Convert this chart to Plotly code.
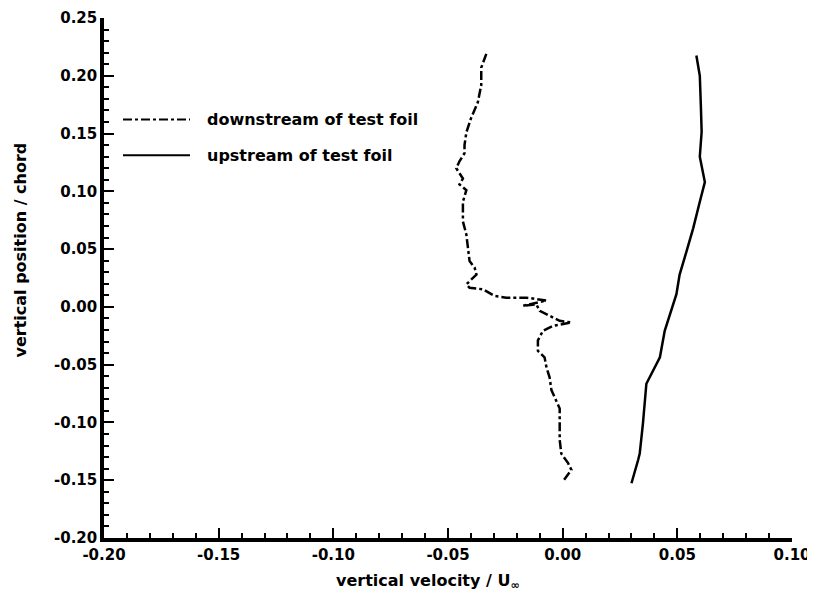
import plotly.graph_objects as go

# Downstream of test foil (dash-dot)
down_x = [-0.0333, -0.0355, -0.0355, -0.0370, -0.0400, -0.0420, -0.0428, -0.0428, -0.0450, -0.0464,
          -0.0435, -0.0450, -0.0420, -0.0435, -0.0435, -0.0435, -0.0420, -0.0413, -0.0406, -0.0384,
          -0.0376, -0.0420, -0.0406, -0.0348, -0.0297, -0.0246, -0.0158, -0.0071, -0.0173, -0.0115,
          -0.0100, -0.0057, -0.0013, 0.0038, -0.0042, -0.0086, -0.0108, -0.0108, -0.0079, -0.0071,
          -0.0057, -0.0049, -0.0027, -0.0013, -0.0013, -0.0013, -0.0006, 0.0023, 0.0038, 0.0001]
down_y = [0.219, 0.207, 0.192, 0.177, 0.163, 0.151, 0.140, 0.133, 0.126, 0.120,
          0.111, 0.106, 0.101, 0.091, 0.080, 0.074, 0.0626, 0.051, 0.0396, 0.034,
          0.028, 0.0195, 0.0166, 0.0152, 0.0095, 0.008, 0.008, 0.0055, 0.001, 0.0023,
          -0.0034, -0.0077, -0.012, -0.0135, -0.0164, -0.0207, -0.029, -0.038, -0.0436, -0.052,
          -0.061, -0.072, -0.081, -0.088, -0.098, -0.115, -0.127, -0.135, -0.141, -0.151]

# Upstream of test foil (solid)
up_x = [0.0583, 0.0598, 0.0603, 0.0606, 0.0598, 0.0620, 0.0598, 0.0569, 0.0540, 0.0510,
        0.0496, 0.0474, 0.0445, 0.0424, 0.0380, 0.0365, 0.0350, 0.0336, 0.0329, 0.0300]
up_y = [0.2175, 0.200, 0.1716, 0.1515, 0.130, 0.108, 0.091, 0.068, 0.048, 0.028,
        0.011, -0.0034, -0.0207, -0.0436, -0.061, -0.0665, -0.101, -0.127, -0.1325, -0.1526]

series_names = ["downstream of test foil", "upstream of test foil"]

x_ticks = [-0.20, -0.15, -0.10, -0.05, 0.00, 0.05, 0.10]
x_labels = ["-0.20", "-0.15", "-0.10", "-0.05", "0.00", "0.05", "0.10"]
y_ticks = [-0.20, -0.15, -0.10, -0.05, 0.00, 0.05, 0.10, 0.15, 0.20, 0.25]
y_labels = ["-0.20", "-0.15", "-0.10", "-0.05", "0.00", "0.05", "0.10", "0.15", "0.20", "0.25"]

x_title = "vertical velocity / U<sub>∞</sub>"
y_title = "vertical position / chord"

FONT = "DejaVu Sans"
BOLD = dict(family=FONT, size=16, color="black", weight="bold")
TICKFONT = dict(family=FONT, size=15, color="black", weight="bold")

fig = go.Figure()
fig.add_trace(go.Scatter(x=down_x, y=down_y, mode="lines", name=series_names[0],
                         line=dict(color="black", width=2.5, dash="dashdot")))
fig.add_trace(go.Scatter(x=up_x, y=up_y, mode="lines", name=series_names[1],
                         line=dict(color="black", width=2.5)))

axis_common = dict(showgrid=False, zeroline=False, showline=True, linecolor="black", linewidth=3.5,
                   ticks="inside", ticklen=10, tickwidth=2, tickcolor="black",
                   tickfont=TICKFONT, ticklabeloverflow="allow",
                   minor=dict(ticks="inside", ticklen=5, tickwidth=1.5, tickcolor="black", dtick=0.01),
                   mirror=False)

fig.update_xaxes(range=[-0.2, 0.1], tickvals=x_ticks, ticktext=x_labels, **axis_common)
fig.update_yaxes(range=[-0.2, 0.25], tickvals=y_ticks, ticktext=y_labels, **axis_common)

# manual legend (sample lines + labels) in paper coordinates
legend_y = [0.805, 0.736]
legend_dash = ["dashdot", "solid"]
for name, ly, dsh in zip(series_names, legend_y, legend_dash):
    fig.add_shape(type="line", xref="paper", yref="paper", x0=0.0276, x1=0.125, y0=ly, y1=ly,
                  line=dict(color="black", width=2, dash=dsh))
    fig.add_annotation(xref="paper", yref="paper", x=0.147, y=ly, text=name, showarrow=False,
                       xanchor="left", yanchor="middle", font=BOLD)

fig.add_annotation(xref="paper", yref="paper", x=0.471, y=-0.084, text=x_title, showarrow=False,
                   xanchor="center", yanchor="middle", font=BOLD)
fig.add_annotation(xref="paper", yref="paper", x=-0.122, y=0.553, text=y_title, showarrow=False,
                   xanchor="center", yanchor="middle", textangle=-90, font=BOLD)

fig.update_layout(
    width=807, height=591,
    margin=dict(l=96, r=23, t=10, b=61, autoexpand=False),
    paper_bgcolor="white", plot_bgcolor="white",
    showlegend=False,
)

fig.write_html("out.html")
